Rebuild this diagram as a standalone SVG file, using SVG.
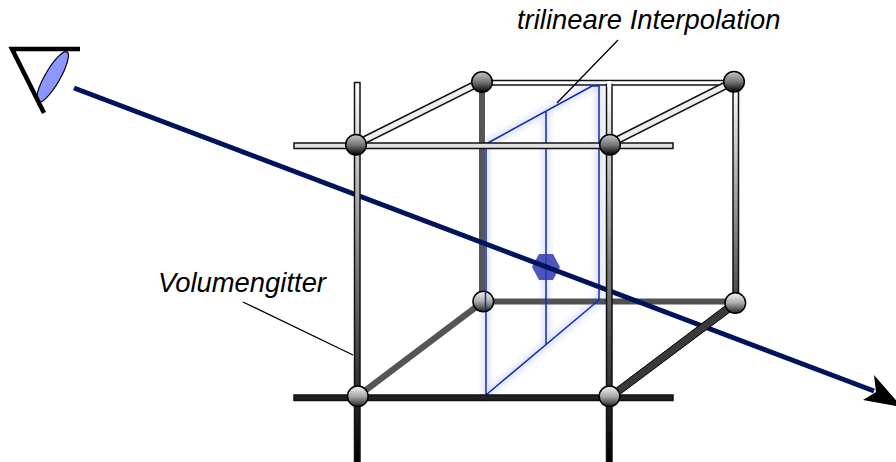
<svg xmlns="http://www.w3.org/2000/svg" width="896" height="462" viewBox="0 0 896 462">
<style>
.bar{stroke:#111;stroke-width:1.5}
.ln{fill:none;stroke:#000;stroke-width:1.3}
.plane{fill:none;stroke:#0c2cb0;stroke-width:1.5}
.glow{fill:none;stroke:#5060e0;stroke-width:7;opacity:.2;filter:url(#blur)}
.s{stroke:#000;stroke-width:1.5}
text{font-family:"Liberation Sans",Arial,sans-serif;font-style:italic;font-size:27.400px;fill:#000}
</style>
<defs>
<filter id="blur" x="-30%" y="-30%" width="160%" height="160%"><feGaussianBlur stdDeviation="3"/></filter>
<linearGradient id="v" gradientUnits="userSpaceOnUse" x1="0" y1="82" x2="0" y2="462"><stop offset="0" stop-color="#fff"/><stop offset=".5" stop-color="#777"/><stop offset="1" stop-color="#000"/></linearGradient>
<linearGradient id="v2" gradientUnits="userSpaceOnUse" x1="0" y1="82" x2="0" y2="305"><stop offset="0" stop-color="#fff"/><stop offset="1" stop-color="#444"/></linearGradient>
<linearGradient id="sd" x1="0" y1="0" x2="0" y2="1"><stop offset="0" stop-color="#c8c8c8"/><stop offset=".5" stop-color="#777"/><stop offset="1" stop-color="#000"/></linearGradient>
<linearGradient id="sl" x1="0" y1="0" x2="0" y2="1"><stop offset="0" stop-color="#f5f5f5"/><stop offset=".5" stop-color="#aaa"/><stop offset="1" stop-color="#222"/></linearGradient>
</defs>
<g id="connectors">
<path d="M483 301.500H736" stroke="#505050" stroke-width="6" fill="none"/>
<rect class="bar" x="482" y="80.500" width="252" height="4.500" fill="#fff"/>
<path d="M482 82V302" stroke="#555" stroke-width="6" fill="none"/>
<path d="M358 396L484 301" stroke="#555" stroke-width="6.500" fill="none"/>
<g id="plane">
<path class="glow" d="M486 144L592 86H599V300L486 395ZM546 112V345"/>
<path class="plane" d="M486 144L592 86H599V300L486 395ZM546 112V345"/>
</g>
<polygon id="voxel" points="532,267 539,254 553,254 560,267 553,280 539,280" fill="#3038b0" opacity=".85"/>
<path d="M74 88L874 391" stroke="#00135c" stroke-width="5" fill="none"/>
<polygon points="874,375 902,407 863,400 876,392" fill="#000"/>
<rect class="bar" x="354.500" y="82.500" width="5.500" height="380" fill="url(#v)"/>
<rect class="bar" x="606.500" y="84.500" width="5.500" height="378" fill="url(#v)"/>
<rect x="607.200" y="81" width="4.100" height="6" fill="#fff"/>
<rect class="bar" x="733" y="84" width="5.500" height="218" fill="url(#v2)"/>
<polygon class="bar" points="354,141.500 480,78.500 483,84.500 357,147.500" fill="#eee"/>
<polygon class="bar" points="607,141.500 732,78.500 735,84.500 610,147.500" fill="#eee"/>
<rect class="bar" x="294" y="143" width="379" height="5.500" fill="#e0e0e0"/>
<polygon points="611,392 733,300 738,306 615,398" fill="#3a3a3a" stroke="#000" stroke-width="1"/>
<rect class="bar" x="294" y="395" width="379" height="5.500" fill="#222"/>
<path class="ln" d="M618 40L557 103M243 302L353 355"/>
</g>
<g id="n1"><circle class="s" cx="356" cy="144.800" r="10.300" fill="url(#sd)"/></g>
<g id="n2"><circle class="s" cx="482" cy="82" r="10.300" fill="url(#sd)"/></g>
<g id="n3"><circle class="s" cx="610" cy="144.800" r="10.300" fill="url(#sd)"/></g>
<g id="n4"><circle class="s" cx="734" cy="81.800" r="10.300" fill="url(#sd)"/></g>
<g id="n5"><circle class="s" cx="483.300" cy="301.500" r="10.300" fill="url(#sl)"/><path class="plane" d="M485.500 291V311"/></g>
<g id="n6"><circle class="s" cx="735.300" cy="303" r="10.300" fill="url(#sl)"/></g>
<g id="n7"><circle class="s" cx="357.800" cy="396.300" r="10.300" fill="url(#sl)"/></g>
<g id="n8"><circle class="s" cx="609.500" cy="396.300" r="10.300" fill="url(#sl)"/></g>
<g id="eye">
<ellipse cx="52.500" cy="77" rx="29" ry="7.500" transform="rotate(-60 52.500 77)" fill="#8c96ff" stroke="#000" stroke-width="1.200"/>
<path d="M80 49H12L44 113" fill="none" stroke="#000" stroke-width="4.500"/>
</g>
<g id="labels">
<text x="517" y="29">trilineare Interpolation</text>
<text x="158" y="292">Volumengitter</text>
</g>
</svg>
